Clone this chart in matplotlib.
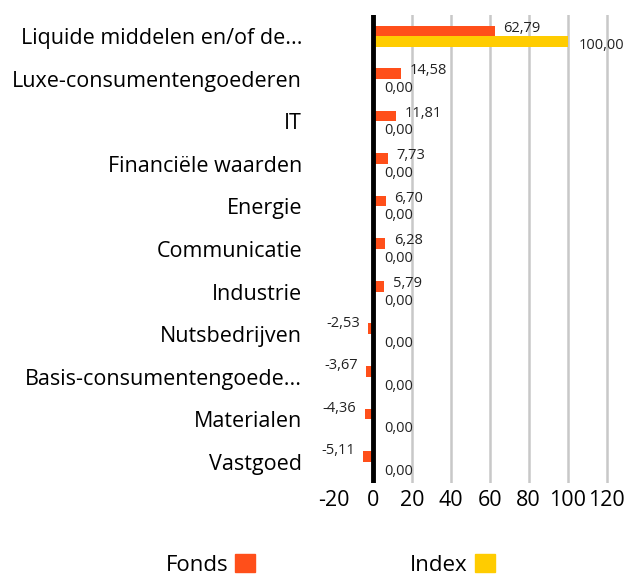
import matplotlib
matplotlib.use("Agg")
import matplotlib.pyplot as plt
from matplotlib.patches import Patch
import numpy as np

plt.rcParams['font.family'] = ['Open Sans', 'DejaVu Sans']

categories = [
    "Liquide middelen en/of de...",
    "Luxe-consumentengoederen",
    "IT",
    "Financiële waarden",
    "Energie",
    "Communicatie",
    "Industrie",
    "Nutsbedrijven",
    "Basis-consumentengoede...",
    "Materialen",
    "Vastgoed",
]
fonds = [62.79, 14.58, 11.81, 7.73, 6.70, 6.28, 5.79, -2.53, -3.67, -4.36, -5.11]
index = [100.00, 0.00, 0.00, 0.00, 0.00, 0.00, 0.00, 0.00, 0.00, 0.00, 0.00]
xticks = [-20, 0, 20, 40, 60, 80, 100, 120]

c_fonds = "#FF4F1A"
c_index = "#FFCC00"

fig = plt.figure(figsize=(6.25, 5.77), dpi=100)
ax = fig.add_axes([0.5347, 0.163, 0.442, 0.811])

y = np.arange(len(categories))[::-1]
h = 0.25
ax.barh(y + h / 2, fonds, height=h, color=c_fonds, zorder=3)
ax.barh(y - h / 2, index, height=h, color=c_index, zorder=3)

def fmt(v):
    return f"{v:.2f}".replace(".", ",")

for yi, v in zip(y, fonds):
    if v >= 0:
        ax.annotate(fmt(v), (v, yi + h / 2), xytext=(6, 2), textcoords="offset points",
                    ha="left", va="center", fontsize=10.5, color="#222222")
    else:
        ax.annotate(fmt(v), (v, yi + h / 2), xytext=(-6, 4), textcoords="offset points",
                    ha="right", va="center", fontsize=10.5, color="#222222")
for yi, v in zip(y, index):
    ax.annotate(fmt(v), (v, yi - h / 2), xytext=(8, -3), textcoords="offset points",
                ha="left", va="center", fontsize=10.5, color="#222222")

ax.set_xlim(-20, 122)
ax.set_ylim(-0.5, 10.5)
ax.set_xticks(xticks)
ax.set_xticklabels([str(t) for t in xticks], fontsize=15.5)
ax.set_yticks(y)
ax.set_yticklabels(categories, fontsize=15.5)
ax.tick_params(axis="both", length=0)
ax.tick_params(axis="y", pad=23)
ax.tick_params(axis="x", pad=5)

for g in xticks[2:]:
    ax.axvline(g, color="#C8C8C8", lw=1.8, zorder=1)
ax.axvline(0, color="black", lw=3.5, zorder=4)
for s in ax.spines.values():
    s.set_visible(False)

handles = [Patch(color=c_fonds), Patch(color=c_index)]
fig.legend(handles, ["Fonds", "Index"], loc="center", bbox_to_anchor=(0.528, 0.021),
           ncol=2, frameon=False, markerfirst=False, fontsize=16,
           handlelength=0.9, handleheight=0.9, handletextpad=0.3, columnspacing=7.0)

fig.savefig("out.png", dpi=100)
